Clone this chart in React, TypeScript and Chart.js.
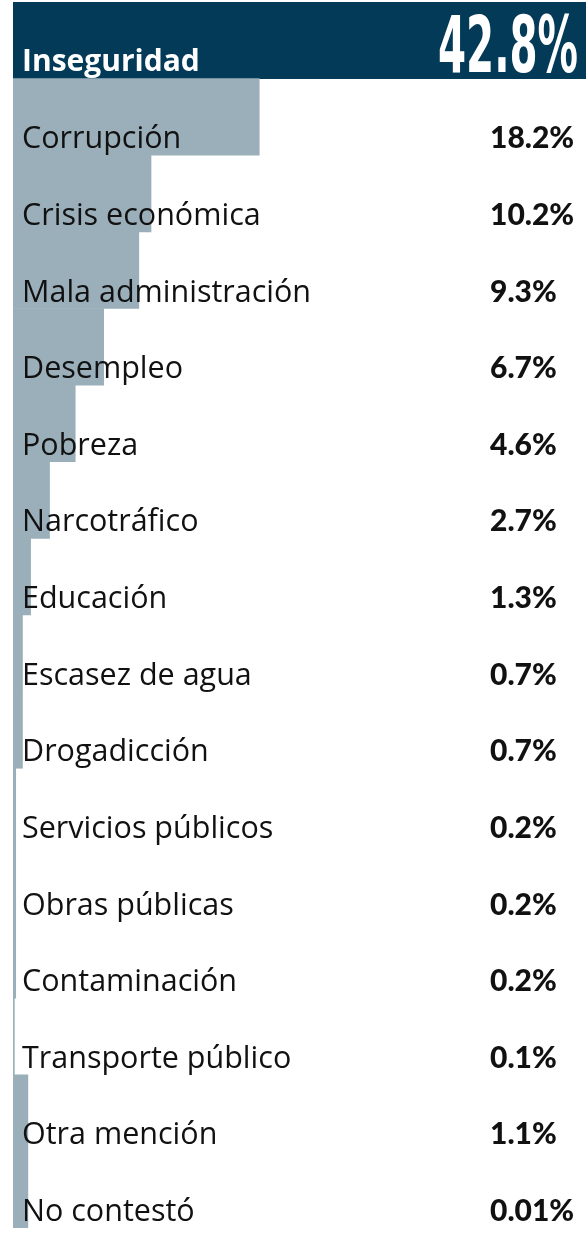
import React, { useEffect, useRef } from "react";
import { Chart, registerables } from "chart.js";

Chart.register(...registerables);

const categories = [
  "Inseguridad",
  "Corrupción",
  "Crisis económica",
  "Mala administración",
  "Desempleo",
  "Pobreza",
  "Narcotráfico",
  "Educación",
  "Escasez de agua",
  "Drogadicción",
  "Servicios públicos",
  "Obras públicas",
  "Contaminación",
  "Transporte público",
  "Otra mención",
  "No contestó",
];

// bar lengths as drawn in the picture (percent)
const barLengths = [42.8, 18.2, 10.2, 9.3, 6.7, 4.6, 2.7, 1.3, 0.7, 0.7, 0.2, 0.2, 0.2, 0.1, 1.1, 1.1];

const valueLabels = [
  "42.8%", "18.2%", "10.2%", "9.3%", "6.7%", "4.6%", "2.7%", "1.3%",
  "0.7%", "0.7%", "0.2%", "0.2%", "0.2%", "0.1%", "1.1%", "0.01%",
];

const NAVY = "#023a57";
const GREY = "#9aafba";

const labelPlugin = {
  id: "rowLabels",
  afterDatasetsDraw(chart: any) {
    const ctx = chart.ctx;
    const meta = chart.getDatasetMeta(0);
    meta.data.forEach((el: any, i: number) => {
      const bottom = el.y + el.height / 2;
      ctx.save();
      ctx.textBaseline = "alphabetic";
      if (i === 0) {
        ctx.fillStyle = "#ffffff";
        ctx.font = "bold 30px 'Open Sans'";
        ctx.textAlign = "left";
        ctx.fillText(categories[i], 22, bottom - 8);
        // big condensed number
        ctx.font = "bold 78px 'Liberation Sans Narrow', 'DejaVu Sans Condensed', sans-serif";
        const w = ctx.measureText(valueLabels[i]).width;
        const sx = 140 / w;
        ctx.translate(578, bottom - 7);
        ctx.scale(sx, 1);
        ctx.textAlign = "right";
        ctx.fillText(valueLabels[i], 0, 0);
      } else {
        ctx.fillStyle = "#111111";
        ctx.font = "30.5px 'Open Sans'";
        ctx.textAlign = "left";
        ctx.fillText(categories[i], 22, bottom - 7);
        ctx.font = "900 30px Lato";
        ctx.fillText(valueLabels[i], 490, bottom - 7);
      }
      ctx.restore();
    });
  },
};

export default function App() {
  const ref = useRef<HTMLCanvasElement | null>(null);
  useEffect(() => {
    document.body.style.margin = "0";
    const canvas = ref.current;
    if (!canvas) return;
    const chart = new Chart(canvas, {
      type: "bar",
      data: {
        labels: categories,
        datasets: [
          {
            data: barLengths,
            backgroundColor: barLengths.map((_, i) => (i === 0 ? NAVY : GREY)),
            borderWidth: 0,
            barPercentage: 1,
            categoryPercentage: 1,
          },
        ],
      },
      options: {
        indexAxis: "y",
        responsive: false,
        animation: false,
        layout: { padding: { left: 13, top: 2, bottom: 12, right: 0 } },
        scales: {
          x: { display: false, min: 0, max: 42.35 },
          y: { display: false },
        },
        plugins: {
          legend: { display: false },
          tooltip: { enabled: false },
        },
      },
      plugins: [labelPlugin],
    });
    return () => chart.destroy();
  }, []);
  return (
    <canvas
      ref={ref}
      width={586}
      height={1240}
      style={{ display: "block", width: 586, height: 1240 }}
    />
  );
}
